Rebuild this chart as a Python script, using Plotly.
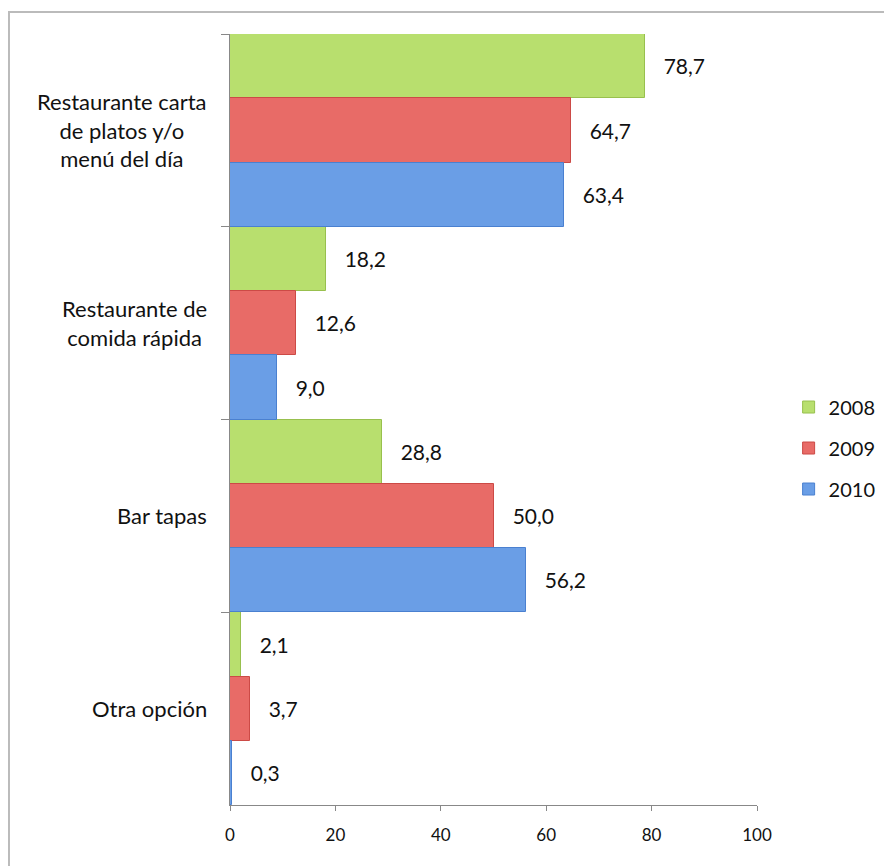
import plotly.graph_objects as go

categories = ["Restaurante carta de platos y/o menú del día",
              "Restaurante de comida rápida",
              "Bar tapas",
              "Otra opción"]
category_labels = ["Restaurante carta<br>de platos y/o<br>menú del día",
                   "Restaurante de<br>comida rápida",
                   "Bar tapas",
                   "Otra opción"]
years = ["2008", "2009", "2010"]
values_2008 = [78.7, 18.2, 28.8, 2.1]
values_2009 = [64.7, 12.6, 50.0, 3.7]
values_2010 = [63.4, 9.0, 56.2, 0.3]
x_ticks = [0, 20, 40, 60, 80, 100]

series = [values_2008, values_2009, values_2010]
colors = ["#b8df6e", "#e86b67", "#6a9ee6"]
line_colors = ["#98c04e", "#cc4a46", "#4a80d0"]

FONT = "Lato, 'Open Sans', sans-serif"

fig = go.Figure()
for i, (yr, vals) in enumerate(zip(years, series)):
    fig.add_trace(go.Bar(
        name=yr, y=categories, x=vals, orientation="h",
        marker=dict(color=colors[i], line=dict(color=line_colors[i], width=1)),
        texttemplate="\u00a0\u00a0\u00a0%{x:.1f}", textposition="outside",
        textfont=dict(family=FONT, size=21, color="#111"),
        cliponaxis=False, legendgroup=yr,
    ))

annotations = []
for cat, lab in zip(categories, category_labels):
    annotations.append(dict(
        x=-0.04, xref="paper", y=cat, yref="y", text=lab, showarrow=False,
        xanchor="right", yanchor="middle", align="center",
        font=dict(family=FONT, size=22, color="#111"),
    ))

fig.update_layout(
    width=884, height=858,
    margin=dict(l=222, r=135, t=26, b=61, autoexpand=False),
    paper_bgcolor="white", plot_bgcolor="white",
    barmode="group", bargap=0, bargroupgap=0,
    separators=",.",
    font=dict(family=FONT, size=17, color="#111"),
    showlegend=True,
    legend=dict(x=1.06, y=0.463, xanchor="left", yanchor="middle",
                traceorder="grouped", tracegroupgap=12,
                font=dict(family=FONT, size=20, color="#111"),
                itemwidth=30, bgcolor="rgba(0,0,0,0)"),
    annotations=annotations,
    shapes=[dict(type="rect", xref="paper", yref="paper",
                 x0=-0.4194, x1=1.4, y0=-0.2, y1=1.0285,
                 line=dict(color="#bbbbbb", width=2), fillcolor="rgba(0,0,0,0)",
                 layer="below")],
)
fig.update_xaxes(range=[0, 100], tickvals=x_ticks, ticks="outside", ticklen=5,
                 tickcolor="#888", showline=True, linecolor="#888", linewidth=1,
                 showgrid=False, zeroline=False, ticklabelstandoff=10,
                 tickfont=dict(family=FONT, size=17, color="#111"))
fig.update_yaxes(autorange="reversed", showticklabels=False, ticks="outside",
                 tickson="boundaries", ticklen=8, tickcolor="#888",
                 showline=True, linecolor="#888", linewidth=1, showgrid=False)

fig.write_html("out.html")
